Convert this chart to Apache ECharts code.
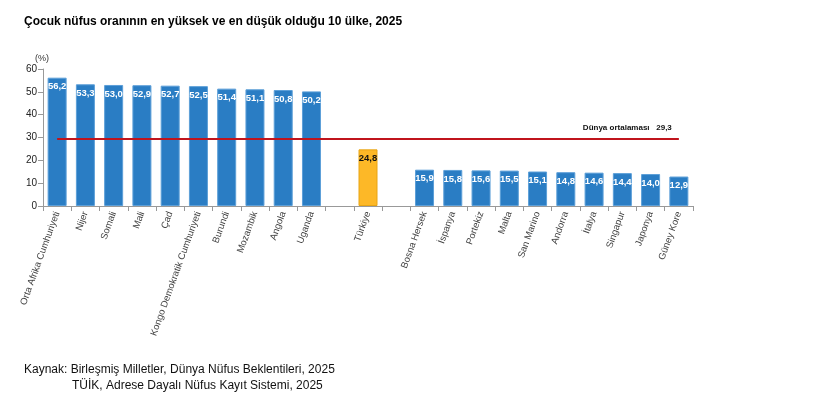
<!DOCTYPE html>
<html>
<head>
<meta charset="utf-8">
<script src="https://cdn.jsdelivr.net/npm/echarts@6/dist/echarts.min.js"></script>
<style>
  html, body { margin: 0; padding: 0; background: #fff; }
  #chart { width: 820px; height: 402px; }
</style>
</head>
<body>
<div id="chart"></div>
<script>
// highest 10, Türkiye, lowest 10 (empty slots are gaps)
var countries = ['Orta Afrika Cumhuriyeti', 'Nijer', 'Somali', 'Mali', 'Çad', 'Kongo Demokratik Cumhuriyeti',
  'Burundi', 'Mozambik', 'Angola', 'Uganda', '', 'Türkiye', '',
  'Bosna Hersek', 'İspanya', 'Portekiz', 'Malta', 'San Marino', 'Andorra', 'İtalya', 'Singapur', 'Japonya', 'Güney Kore'];
var values = [56.2, 53.3, 53.0, 52.9, 52.7, 52.5, 51.4, 51.1, 50.8, 50.2, null, 24.8, null,
  15.9, 15.8, 15.6, 15.5, 15.1, 14.8, 14.6, 14.4, 14.0, 12.9];
var worldAvg = 29.3;
var yTicks = [0, 10, 20, 30, 40, 50, 60];

function fmt(v) { return v.toFixed(1).replace('.', ','); }

var barData = values.map(function(v, i) {
  if (v === null) return '-';
  if (countries[i] === 'Türkiye') {
    return { value: v, itemStyle: { color: '#FDB827', borderColor: '#E8A515' },
      label: { color: '#111' } };
  }
  return v;
});
var lineData = countries.map(function() { return worldAvg; });

var chart = echarts.init(document.getElementById('chart'));
chart.setOption({
  backgroundColor: '#fff',
  animation: false,
  textStyle: { fontFamily: 'Liberation Sans, Arial, sans-serif' },
  title: [
    { text: 'Çocuk nüfus oranının en yüksek ve en düşük olduğu 10 ülke, 2025', left: 19, top: 11,
      textStyle: { fontSize: 12, fontWeight: 'bold', color: '#000' } },
    { text: 'Kaynak: Birleşmiş Milletler, Dünya Nüfus Beklentileri, 2025', left: 19, top: 359,
      textStyle: { fontSize: 12, fontWeight: 'normal', color: '#111' } },
    { text: 'TÜİK, Adrese Dayalı Nüfus Kayıt Sistemi, 2025', left: 67, top: 375,
      textStyle: { fontSize: 12, fontWeight: 'normal', color: '#111' } }
  ],
  grid: { left: 43, right: 127, top: 69, bottom: 196 },
  xAxis: {
    type: 'category',
    data: countries,
    axisLine: { lineStyle: { color: '#999' } },
    axisTick: { show: true, lineStyle: { color: '#999' } },
    axisLabel: { rotate: 70, fontSize: 9.5, color: '#444', interval: 0, margin: 6 }
  },
  yAxis: {
    type: 'value',
    min: yTicks[0],
    max: yTicks[yTicks.length - 1],
    interval: 10,
    name: '(%)',
    nameGap: 6,
    nameTextStyle: { fontSize: 9, color: '#333', align: 'center', padding: [0, 0, 0, -2] },
    axisLine: { show: true, lineStyle: { color: '#999' } },
    axisTick: { show: true, lineStyle: { color: '#999' } },
    axisLabel: { fontSize: 10, color: '#222', margin: 6 },
    splitLine: { show: false }
  },
  series: [
    {
      type: 'bar',
      data: barData,
      barWidth: 19,
      itemStyle: { color: '#2A7DC4', borderColor: '#5C9FD8', borderWidth: 1 },
      label: {
        show: true, position: 'insideTop', distance: 4,
        fontSize: 9.5, fontWeight: 'bold', color: '#fff',
        formatter: function(p) { return fmt(p.value); }
      }
    },
    {
      type: 'line',
      data: lineData,
      symbol: 'none',
      lineStyle: { color: '#C0141C', width: 2 },
      z: 5,
      endLabel: {
        show: true,
        formatter: 'Dünya ortalaması   ' + fmt(worldAvg),
        fontSize: 8, fontWeight: 'bold', color: '#111',
        offset: [-104, -11]
      }
    }
  ]
});
</script>
</body>
</html>
